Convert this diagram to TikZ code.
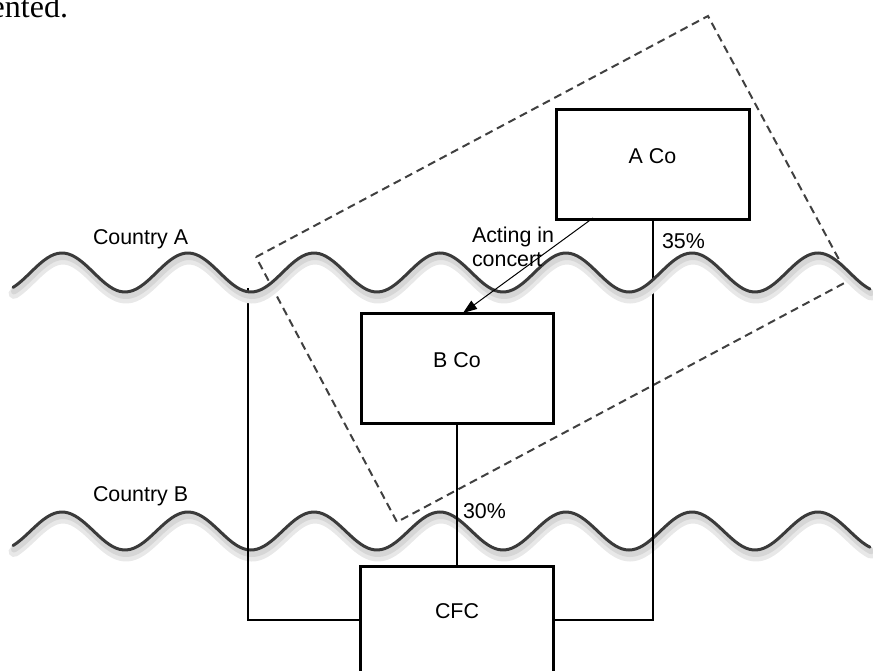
\documentclass[tikz,border=0pt]{standalone}
\usepackage{fontspec}
\setmainfont{Liberation Sans}
\newfontfamily\serifx{Liberation Serif}
\usetikzlibrary{arrows.meta,calc}
\definecolor{wavec}{HTML}{3A3A3A}
\definecolor{dashc}{HTML}{404040}
\begin{document}
\begin{tikzpicture}[x=1pt,y=-1pt,
  every node/.style={font=\fontsize{21.4}{24}\selectfont},
  cobox/.style={draw=black, line width=3pt, rectangle, inner sep=0pt, outer sep=0pt, text height=15pt, align=center},
  conn/.style={draw=black, line width=2pt},
  lbl/.style={inner sep=0pt, outer sep=0pt},
  waveshadowA/.style={gray!18, line width=11pt, line cap=round},
  waveshadowB/.style={gray!32, line width=6pt, line cap=round},
  waveline/.style={wavec, line width=3pt, line cap=round},
  dashbox/.style={dashc, line width=2pt, dash pattern=on 8pt off 5pt}]
\useasboundingbox (0,0) rectangle (873,671);
\clip (0,0) rectangle (873,671);

% boxes
\node[cobox, minimum width=193pt, minimum height=110pt, text depth=17pt] (A) at (652.5,165) {A Co};
\node[cobox, minimum width=192pt, minimum height=110pt, text depth=17pt] (B) at (457,368) {B Co};
\node[cobox, minimum width=193pt, minimum height=108pt, text depth=19pt] (CFC) at (457,620) {CFC};

% wave B (Country B)
\draw[waveshadowA, shift={(1,6)}] plot[domain=13:870,samples=250,smooth] (\x,{531-19*cos(2.857143*(\x-62))});
\draw[waveshadowB, shift={(1,4)}] plot[domain=13:870,samples=250,smooth] (\x,{531-19*cos(2.857143*(\x-62))});
\draw[waveline] plot[domain=13:870,samples=250,smooth] (\x,{531-19*cos(2.857143*(\x-62))});

% dashed group
\draw[dashbox] (256,257) -- (708,16) -- (850,280) -- (397,522) -- cycle;

% connectors
\coordinate (lt) at (248,288);
\draw[conn] (lt) |- (CFC.west);
\draw[conn] (A.south) |- (CFC.east);
\draw[conn] (B.south) -- (B.south |- CFC.north);

% wave A (Country A)
\draw[waveshadowA, shift={(1,6)}] plot[domain=13:870,samples=250,smooth] (\x,{272.5-19.5*cos(2.857143*(\x-62))});
\draw[waveshadowB, shift={(1,4)}] plot[domain=13:870,samples=250,smooth] (\x,{272.5-19.5*cos(2.857143*(\x-62))});
\draw[waveline] plot[domain=13:870,samples=250,smooth] (\x,{272.5-19.5*cos(2.857143*(\x-62))});

% acting in concert arrow
\coordinate (as) at (593,218);
\draw[line width=1pt, -{Triangle[length=14pt,width=10pt]}] (as) -- ($(B.north)+(6,0)$);

% labels
\node[lbl, anchor=base west] (ca) at (93,244) {Country A};
\node[lbl, anchor=base west] (cb) at (93,501) {Country B};
\node[lbl, anchor=base west] (aic1) at (472,243) {Acting in};
\node[lbl, anchor=base west] (aic2) at (472,266) {concert};
\node[lbl, anchor=base west] (p35) at (662,248) {35\%};
\node[lbl, anchor=base west] (p30) at (463,518) {30\%};
\node[lbl, anchor=base east, font=\serifx\fontsize{32}{34}\selectfont] (ent) at (68,18) {ented.};
\end{tikzpicture}
\end{document}
